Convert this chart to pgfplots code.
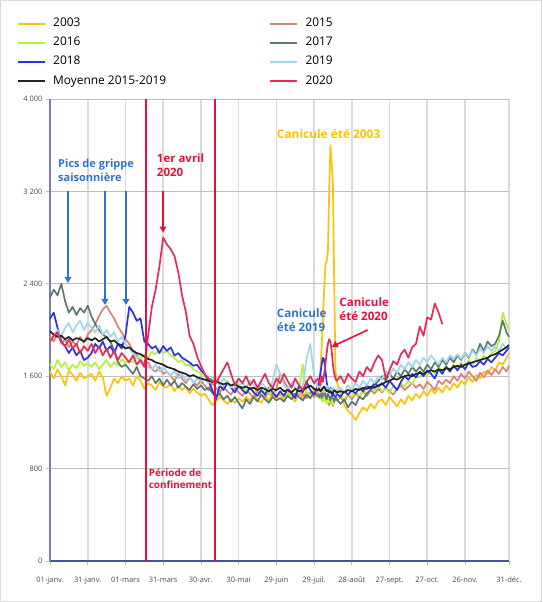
\documentclass[border=0pt]{standalone}
\usepackage{pgfplots}
\pgfplotsset{compat=1.18}
\usepackage{pgfplotstable}
\usepackage{fontspec}
\setmainfont{Open Sans}
\usetikzlibrary{arrows.meta}
\definecolor{c2003}{HTML}{FFC20A}
\definecolor{c2015}{HTML}{D98378}
\definecolor{c2016}{HTML}{B6F23D}
\definecolor{c2017}{HTML}{5C7A70}
\definecolor{c2018}{HTML}{2E30F0}
\definecolor{c2019}{HTML}{9FD6EA}
\definecolor{cmoy}{HTML}{232323}
\definecolor{c2020}{HTML}{E62C55}
\definecolor{cred}{HTML}{E8103A}
\definecolor{cblue}{HTML}{2E74CA}
\definecolor{cgold}{HTML}{FFC000}
\definecolor{yaxis}{HTML}{7B7DB8}
\definecolor{xaxis}{HTML}{4A50A8}

\pgfplotstableread{
d a b c e f g m r
0 1640 1950 1700 2280 2100 1900 1990 1900
3 1580 1900 1660 2350 2150 1960 1960 1950
6 1660 1980 1740 2300 2020 2000 1940 1980
9 1600 1880 1680 2400 1900 1940 1950 1900
12 1520 1920 1720 2250 1860 2020 1920 1860
15 1650 1850 1650 2150 1800 2060 1940 1920
18 1610 1900 1700 2200 1850 1980 1910 1840
21 1560 1870 1670 2130 1780 2040 1930 1880
24 1630 1940 1730 2190 1820 2080 1920 1800
27 1580 1890 1690 2150 1740 2000 1900 1860
30 1600 1960 1710 2210 1760 2060 1930 1820
33 1620 2000 1680 2120 1800 2020 1910 1880
36 1560 2050 1720 2050 1880 1980 1930 1800
39 1640 2120 1660 2000 1840 2040 1900 1860
42 1590 2180 1700 1960 1900 1960 1920 1780
45 1430 2210 1740 1940 1820 2000 1940 1840
48 1500 2150 1680 1900 1860 1940 1900 1760
51 1580 2100 1720 1820 1800 1980 1910 1820
54 1540 2030 1690 1720 1880 1900 1880 1740
57 1600 1980 1750 1680 1840 1940 1870 1800
60 1560 1920 1710 1700 1950 1880 1840 1760
63 1580 1880 1740 1660 2200 1840 1850 1720
66 1520 1820 1720 1620 2150 1800 1820 1780
69 1600 1780 1770 1680 2080 1760 1800 1700
72 1560 1740 1750 1600 2100 1720 1790 1740
75 1490 1700 1790 1580 1900 1700 1770 1680
78 1540 1720 1760 1560 1880 1680 1750 1950
81 1520 1660 1810 1600 1840 1660 1740 2200
84 1480 1640 1790 1540 1860 1700 1720 2350
87 1550 1680 1840 1580 1800 1640 1710 2550
90 1510 1620 1800 1520 1860 1680 1700 2800
93 1500 1640 1820 1570 1820 1640 1680 2740
96 1540 1600 1780 1520 1850 1600 1670 2700
99 1470 1560 1760 1560 1780 1650 1660 2640
102 1520 1620 1720 1500 1800 1580 1640 2500
105 1480 1580 1740 1540 1760 1620 1630 2300
108 1510 1540 1690 1510 1740 1560 1620 2160
111 1450 1590 1700 1480 1720 1600 1600 1950
114 1490 1550 1660 1530 1690 1540 1610 1880
117 1460 1520 1640 1490 1700 1580 1590 1770
120 1430 1560 1620 1520 1650 1560 1580 1690
123 1450 1520 1600 1480 1620 1580 1570 1620
126 1400 1480 1580 1500 1560 1540 1560 1580
129 1350 1540 1560 1460 1480 1600 1550 1560
132 1380 1500 1590 1420 1400 1560 1560 1540
135 1420 1460 1540 1450 1520 1520 1540 1600
138 1390 1510 1520 1400 1480 1580 1530 1660
141 1360 1470 1560 1430 1540 1540 1540 1720
144 1400 1440 1500 1380 1500 1500 1520 1620
147 1370 1500 1530 1420 1460 1560 1530 1520
150 1410 1460 1490 1370 1520 1520 1510 1580
153 1380 1430 1510 1320 1480 1540 1500 1540
156 1420 1480 1470 1400 1450 1500 1510 1600
159 1390 1450 1500 1360 1500 1560 1490 1520
162 1440 1410 1460 1420 1460 1520 1500 1570
165 1400 1470 1490 1380 1430 1490 1480 1500
168 1370 1440 1450 1440 1480 1540 1500 1560
171 1430 1420 1480 1400 1440 1510 1490 1620
174 1390 1460 1440 1370 1500 1480 1470 1540
177 1450 1430 1470 1420 1460 1560 1490 1500
180 1410 1490 1430 1390 1420 1700 1480 1580
183 1440 1620 1460 1410 1470 1620 1500 1540
186 1400 1560 1420 1380 1430 1520 1470 1620
189 1460 1500 1450 1430 1490 1490 1480 1560
192 1420 1460 1410 1400 1450 1540 1460 1500
195 1380 1430 1440 1450 1410 1500 1490 1580
198 1450 1480 1480 1420 1520 1470 1470 1520
201 1410 1440 1700 1390 1460 1520 1480 1480
204 1470 1410 1460 1440 1550 1750 1500 1550
207 1430 1460 1430 1410 1480 1880 1520 1600
210 1490 1420 1450 1460 1440 1600 1490 1540
213 1450 1450 1420 1430 1520 1500 1480 1580
214 1500 1440 1410 1420 1560 1480 1490 1560
215 1650 1420 1440 1450 1620 1510 1470 1520
216 1850 1460 1400 1410 1700 1470 1480 1600
217 2100 1430 1380 1440 1760 1500 1500 1550
218 2350 1400 1420 1470 1740 1460 1510 1620
219 2560 1450 1390 1430 1650 1490 1490 1700
220 2600 1420 1360 1400 1550 1520 1470 1800
221 2680 1380 1400 1450 1480 1480 1480 1880
222 3200 1350 1370 1420 1450 1450 1460 1920
223 3600 1400 1410 1390 1500 1490 1470 1900
224 3450 1370 1380 1440 1470 1460 1450 1820
225 3250 1340 1350 1410 1430 1500 1460 1700
226 2400 1380 1390 1380 1460 1470 1480 1620
227 1650 1410 1420 1420 1420 1440 1470 1580
228 1550 1390 1400 1400 1450 1480 1460 1560
231 1450 1420 1430 1360 1420 1500 1470 1600
234 1350 1380 1400 1400 1470 1460 1460 1540
237 1300 1440 1450 1330 1440 1520 1480 1620
240 1270 1400 1420 1380 1480 1480 1470 1580
243 1220 1450 1460 1350 1450 1540 1490 1550
246 1280 1420 1430 1420 1500 1500 1480 1640
249 1330 1470 1480 1400 1470 1560 1500 1600
252 1300 1430 1450 1450 1520 1520 1490 1680
255 1360 1480 1500 1480 1490 1580 1510 1640
258 1320 1450 1470 1520 1540 1540 1500 1720
261 1380 1490 1520 1560 1510 1600 1520 1780
264 1400 1460 1470 1600 1540 1570 1530 1740
267 1350 1500 1500 1560 1500 1640 1550 1580
270 1420 1470 1450 1620 1560 1600 1560 1650
273 1380 1440 1520 1580 1520 1670 1580 1730
276 1340 1490 1480 1640 1480 1630 1570 1700
279 1400 1520 1540 1600 1550 1700 1590 1790
282 1360 1480 1510 1660 1600 1660 1600 1830
285 1430 1510 1560 1620 1570 1720 1610 1760
288 1390 1540 1530 1680 1620 1680 1600 1850
291 1450 1500 1590 1640 1590 1740 1620 1880
294 1410 1530 1590 1680 1640 1700 1630 2030
297 1470 1490 1640 1640 1600 1760 1620 1950
300 1430 1550 1610 1700 1650 1720 1640 2110
303 1490 1520 1660 1660 1620 1780 1650 2090
306 1450 1480 1620 1720 1580 1740 1640 2230
309 1500 1560 1680 1680 1660 1700 1660 2150
312 1460 1530 1640 1740 1620 1760 1650 2050
315 1520 1570 1690 1700 1680 1720 1670 nan
318 1480 1540 1650 1760 1640 1780 1660 nan
321 1540 1600 1700 1720 1690 1750 1680 nan
324 1500 1560 1670 1780 1650 1790 1690 nan
327 1560 1620 1720 1740 1700 1750 1680 nan
330 1530 1580 1680 1800 1660 1800 1700 nan
333 1590 1640 1740 1760 1720 1770 1710 nan
336 1550 1600 1700 1830 1680 1820 1720 nan
339 1610 1560 1760 1790 1690 1780 1730 nan
342 1580 1630 1720 1880 1730 1840 1740 nan
345 1640 1590 1780 1820 1700 1800 1750 nan
348 1620 1650 1750 1900 1750 1860 1760 nan
351 1680 1610 1800 1860 1720 1820 1780 nan
354 1650 1660 1820 1880 1760 1860 1790 nan
357 1720 1620 1900 1950 1800 1820 1810 nan
360 1700 1680 2150 2080 1780 1880 1830 nan
363 1760 1640 2050 1980 1820 1840 1850 nan
365 1800 1690 2000 1940 1850 1870 1870 nan
}\data

\begin{document}
\begin{tikzpicture}[x=1pt,y=1pt]
\useasboundingbox (0,0) rectangle (542,602);
\draw[color=black!14, line width=1pt] (0.5,0.5) rectangle (541.5,601.5);
\begin{axis}[
  at={(50pt,41pt)}, anchor=south west,
  scale only axis, width=459pt, height=462pt,
  xmin=0, xmax=365, ymin=0, ymax=4000,
  axis lines*=left,
  x axis line style={color=xaxis, line width=1.3pt},
  y axis line style={color=yaxis, line width=1.3pt},
  xtick={0,30,60,90,120,150,180,210,240,270,300,330,365},
  xticklabels={01-janv.,31-janv.,01-mars,31-mars,30-avr.,30-mai,29-juin,29-juil.,28-août,27-sept.,27-oct.,26-nov.,31-déc.},
  ytick={0,800,1600,2400,3200,4000},
  yticklabels={0,800,1 600,2 400,3 200,4 000},
  tick align=outside, major tick length=4pt,
  tick style={color=black!25, line width=0.8pt},
  xmajorgrids, ymajorgrids,
  x grid style={color=black!14, line width=1.6pt},
  y grid style={color=black!25, line width=0.8pt},
  ticklabel style={font=\fontsize{7.5}{8.5}\selectfont, text=black!70},
  xticklabel style={yshift=-8.5pt},
  /pgf/number format/assume math mode=true,
  clip=false,
  legend columns=2,
  legend cell align=left,
  legend style={at={(-0.0725,1.1762)}, anchor=north west, draw=none, fill=none,
    inner sep=0pt, font=\fontsize{11.9}{13}\selectfont, row sep=7.6pt,
    nodes={inner xsep=0pt, inner ysep=0pt, text height=9pt, text depth=2.5pt},
    /tikz/column 1/.style={column sep=7.7pt},
    /tikz/column 2/.style={column sep=103pt},
    /tikz/column 3/.style={column sep=7.7pt}},
  legend image code/.code={\draw[#1, line width=2pt] (0pt,0pt) -- (26.6pt,0pt);},
  every axis plot/.append style={line width=1.7pt, line join=round},
]
\addplot[c2003] table[x=d,y=a]{\data}; \addlegendentry{2003}
\addplot[c2015] table[x=d,y=b]{\data}; \addlegendentry{2015}
\addplot[c2016] table[x=d,y=c]{\data}; \addlegendentry{2016}
\addplot[c2017] table[x=d,y=e]{\data}; \addlegendentry{2017}
\addplot[c2018] table[x=d,y=f]{\data}; \addlegendentry{2018}
\addplot[c2019] table[x=d,y=g]{\data}; \addlegendentry{2019}
\addplot[cmoy] table[x=d,y=m]{\data}; \addlegendentry{Moyenne 2015-2019}
\addplot[c2020, unbounded coords=jump] table[x=d,y=r]{\data}; \addlegendentry{2020}
\addplot[cred, line width=2pt, forget plot] coordinates {(76,0) (76,4000)};
\addplot[cred, line width=2pt, forget plot] coordinates {(131,0) (131,4000)};

\node[anchor=west, align=left, text=cblue, inner sep=0pt, font=\bfseries\fontsize{11}{14}\selectfont] at (axis cs:6.4,3383) {Pics de grippe\\saisonnière};
\node[anchor=west, align=left, text=cred, inner sep=0pt, font=\bfseries\fontsize{11.5}{14}\selectfont] at (axis cs:84.9,3423) {1er avril\\2020};
\node[anchor=west, align=left, text=cgold, inner sep=0pt, font=\bfseries\fontsize{11.9}{14}\selectfont] at (axis cs:180.3,3694) {Canicule été 2003};
\node[anchor=west, align=left, text=cblue, inner sep=0pt, font=\bfseries\fontsize{11.6}{14}\selectfont] at (axis cs:180.3,2084) {Canicule\\été 2019};
\node[anchor=west, align=left, text=cred, inner sep=0pt, font=\bfseries\fontsize{11.6}{14}\selectfont] at (axis cs:230,2178) {Canicule\\été 2020};
\node[anchor=west, align=left, text=cred, inner sep=0pt, font=\bfseries\fontsize{9.9}{12.3}\selectfont] at (axis cs:78.4,714) {Période de\\confinement};

\begin{scope}[line width=1.6pt, -{Triangle[length=6pt,width=6.5pt]}]
\draw[cblue] (axis cs:14.3,3203) -- (axis cs:14.3,2407);
\draw[cblue] (axis cs:43.7,3203) -- (axis cs:43.7,2216);
\draw[cblue] (axis cs:60.4,3203) -- (axis cs:60.4,2216);
\draw[cred] (axis cs:89.9,3203) -- (axis cs:89.9,2843);
\draw[cred] (axis cs:252.6,2000) -- (axis cs:224,1855);
\end{scope}
\end{axis}
\end{tikzpicture}
\end{document}
